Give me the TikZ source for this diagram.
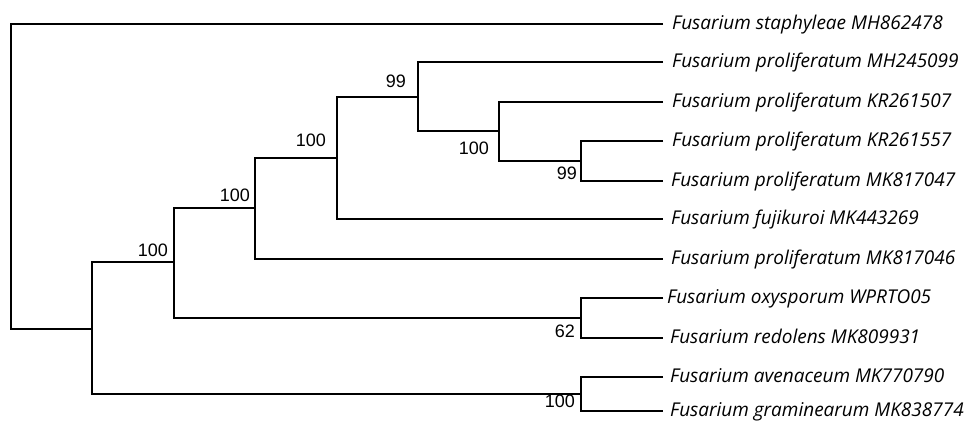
\documentclass[tikz,border=0pt]{standalone}
\usepackage{fontspec}
\setmainfont{Liberation Sans}
\newfontfamily\taxfont{Open Sans}
\begin{document}
\begin{tikzpicture}[x=1bp,y=-1bp,
  br/.style={line width=1.1bp, black},
  taxon/.style={anchor=base west, inner sep=0pt, font=\taxfont\itshape\fontsize{19bp}{21bp}\selectfont},
  boot/.style={anchor=south east, inner sep=0pt, font=\fontsize{18bp}{20bp}\selectfont}]
\useasboundingbox (0,0) rectangle (967,421);
% leaf end points
\coordinate (e1) at (663,24);
\coordinate (e2) at (663,62);
\coordinate (e3) at (663,102);
\coordinate (e4) at (663,141);
\coordinate (e5) at (663,181);
\coordinate (e6) at (663,219);
\coordinate (e7) at (663,259);
\coordinate (e8) at (663,298);
\coordinate (e9) at (663,338);
\coordinate (e10) at (663,377);
\coordinate (e11) at (663,411);
% internal nodes
\coordinate (nA) at (581,161);
\coordinate (nB) at (499,131);
\coordinate (nC) at (418,97);
\coordinate (nD) at (337,158);
\coordinate (nE) at (255,208);
\coordinate (nG) at (581,318);
\coordinate (nF) at (174,262);
\coordinate (nH) at (581,394);
\coordinate (nI) at (92,329);
\coordinate (root) at (11,176);
% branches
\draw[br] (e1) -| (root) |- (nI);
\draw[br] (nF) -| (nI) |- (nH);
\draw[br] (nE) -| (nF) |- (nG);
\draw[br] (nD) -| (nE) |- (e7);
\draw[br] (nC) -| (nD) |- (e6);
\draw[br] (e2) -| (nC) |- (nB);
\draw[br] (e3) -| (nB) |- (nA);
\draw[br] (e4) -| (nA) |- (e5);
\draw[br] (e8) -| (nG) |- (e9);
\draw[br] (e10) -| (nH) |- (e11);
% taxa
\node[taxon] (t1) at (672,29) {Fusarium staphyleae MH862478};
\node[taxon] (t2) at (672,67) {Fusarium proliferatum MH245099};
\node[taxon] (t3) at (672,107) {Fusarium proliferatum KR261507};
\node[taxon] (t4) at (672,146) {Fusarium proliferatum KR261557};
\node[taxon] (t5) at (671,186) {Fusarium proliferatum MK817047};
\node[taxon] (t6) at (671,224) {Fusarium fujikuroi MK443269};
\node[taxon] (t7) at (671,264) {Fusarium proliferatum MK817046};
\node[taxon] (t8) at (667,303) {Fusarium oxysporum WPRTO05};
\node[taxon] (t9) at (670,343) {Fusarium redolens MK809931};
\node[taxon] (t10) at (670,382) {Fusarium avenaceum MK770790};
\node[taxon] (t11) at (670,416) {Fusarium graminearum MK838774};
% bootstrap values
\node[boot] (bC) at (406,88) {99};
\node[boot] (bD) at (326,147) {100};
\node[boot] (bE) at (250,202) {100};
\node[boot] (bF) at (168,257) {100};
\node[boot] (bB) at (489,155) {100};
\node[boot] (bA) at (577,180) {99};
\node[boot] (bG) at (575,338) {62};
\node[boot] (bH) at (575,408) {100};
\end{tikzpicture}
\end{document}
